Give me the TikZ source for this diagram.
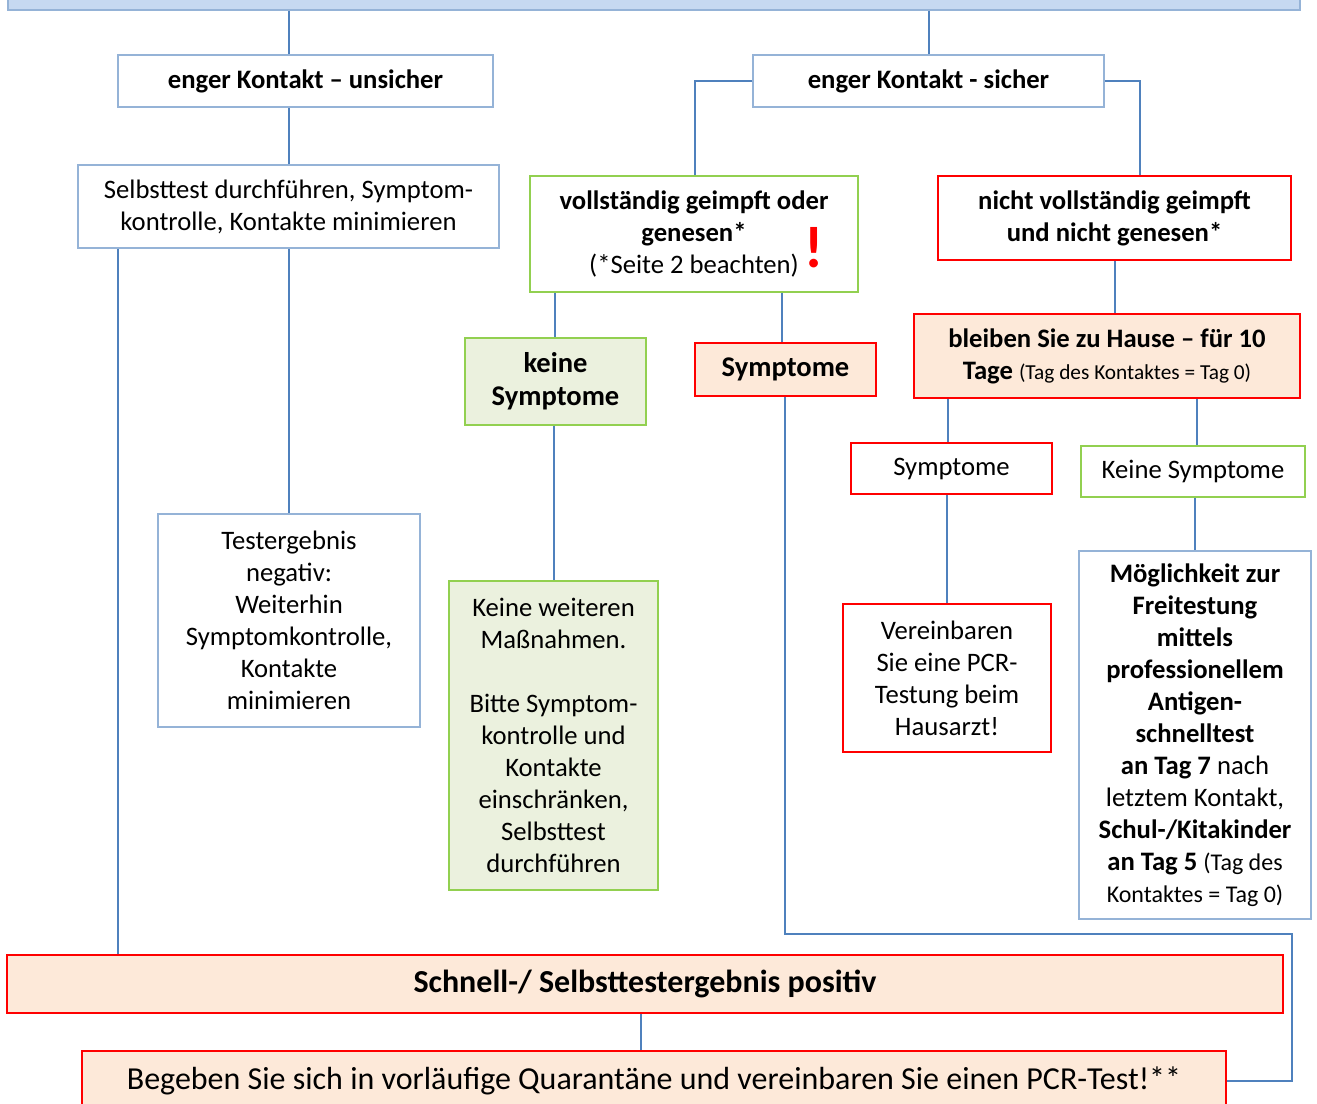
\documentclass[tikz,border=0pt]{standalone}
\usepackage{fontspec}
\setmainfont{Carlito}
\definecolor{lblue}{RGB}{149,179,215}
\definecolor{topfill}{RGB}{198,217,241}
\definecolor{gborder}{RGB}{146,208,80}
\definecolor{gfill}{RGB}{235,241,222}
\definecolor{rborder}{RGB}{255,0,0}
\definecolor{pfill}{RGB}{253,233,217}
\definecolor{cblue}{RGB}{79,129,189}
\newcommand{\fsN}{\fontsize{20}{24}\selectfont}
\newcommand{\fsS}{\fontsize{16}{24}\selectfont}
\newcommand{\fsT}{\fontsize{18}{24}\selectfont}
\newcommand{\fsL}{\fontsize{24}{28}\selectfont}
\newcommand{\fsM}{\fontsize{21.4}{24.75}\selectfont}
\begin{document}
\begin{tikzpicture}[x=0.75pt,y=-0.75pt,
  box/.style={draw, line width=1.3pt, inner sep=0pt, align=center, font=\fsN},
  bluebox/.style={box, draw=lblue, fill=white},
  greenbox/.style={box, draw=gborder, fill=white},
  greenfill/.style={box, draw=gborder, fill=gfill},
  redbox/.style={box, draw=rborder, fill=white},
  peachbox/.style={box, draw=rborder, fill=pfill},
  conn/.style={draw=cblue, line width=1.1pt}]
\clip (0,0) rectangle (1317,1103);
\fill[white] (0,0) rectangle (1317,1103);

\node[box, draw=lblue, fill=topfill, minimum width=969pt, minimum height=37.5pt] (top) at (654,-15) {};

\node[bluebox, minimum width=281.25pt, minimum height=39pt, font=\fsN\bfseries] (b2) at (305.5,81) {enger Kontakt – unsicher};
\node[bluebox, minimum width=263.25pt, minimum height=39pt, font=\fsN\bfseries] (b3) at (928.5,81) {enger Kontakt - sicher};
\node[bluebox, minimum width=315.75pt, minimum height=62.25pt] (b4) at (288.5,206.5) {Selbsttest durchführen, Symptom-\\kontrolle, Kontakte minimieren};
\node[greenbox, minimum width=246pt, minimum height=87pt] (b5) at (694,234) {\textbf{vollständig geimpft oder}\\\textbf{genesen*}\\(*Seite 2 beachten)};
\node[text=rborder, font=\fontsize{44}{44}\selectfont\bfseries, inner sep=0pt] (excl) at (814,248) {!};
\node[redbox, minimum width=264.75pt, minimum height=63pt, font=\fsN\bfseries] (b6) at (1114.5,218) {nicht vollständig geimpft\\und nicht genesen*};
\node[greenfill, minimum width=135.75pt, minimum height=65.25pt, font=\fsM\bfseries] (b7) at (555.5,381.5) {keine\\Symptome};
\node[peachbox, minimum width=135.75pt, minimum height=39.75pt, font=\fsM\bfseries] (b8) at (785.5,369.5) {Symptome};
\node[peachbox, minimum width=289.5pt, minimum height=63pt] (b9) at (1107,356) {\textbf{bleiben Sie zu Hause – für 10}\\\textbf{Tage} {\fsS(Tag des Kontaktes = Tag 0)}};
\node[redbox, minimum width=150.75pt, minimum height=38.25pt] (b10) at (951.5,468.5) {Symptome};
\node[greenbox, minimum width=168pt, minimum height=38.25pt] (b11) at (1193,471.5) {Keine Symptome};
\node[bluebox, minimum width=196.5pt, minimum height=159.75pt] (b12) at (289,620.5) {Testergebnis\\negativ:\\Weiterhin\\Symptomkontrolle,\\Kontakte\\minimieren};
\node[greenfill, minimum width=156.75pt, minimum height=231.75pt] (b13) at (553.5,735.5) {Keine weiteren\\Maßnahmen.\\[24pt]Bitte Symptom-\\kontrolle und\\Kontakte\\einschränken,\\Selbsttest\\durchführen};
\node[redbox, minimum width=156pt, minimum height=111pt] (b14) at (947,678) {Vereinbaren\\Sie eine PCR-\\Testung beim\\Hausarzt!};
\node[bluebox, minimum width=174pt, minimum height=276pt] (b15) at (1195,735) {\textbf{Möglichkeit zur}\\\textbf{Freitestung}\\\textbf{mittels}\\\textbf{professionellem}\\\textbf{Antigen-}\\\textbf{schnelltest}\\\textbf{an Tag 7} nach\\letztem Kontakt,\\\textbf{Schul-/Kitakinder}\\\textbf{an Tag 5} {\fsT(Tag des}\\{\fsT Kontaktes = Tag 0)}};
\node[peachbox, minimum width=957pt, minimum height=43.5pt, font=\fsL\bfseries] (b16) at (645,984) {Schnell-/ Selbsttestergebnis positiv};
\node[peachbox, minimum width=858pt, minimum height=45pt, font=\fsL] (b17) at (654,1081) {Begeben Sie sich in vorläufige Quarantäne und vereinbaren Sie einen PCR-Test!**};

\draw[conn] (top.south -| 289,0) -- (b2.north -| 289,0);
\draw[conn] (top.south -| 929,0) -- (b3.north -| 929,0);
\draw[conn] (b2.south -| 289,0) -- (b4.north -| 289,0);
\draw[conn] (b3.west) -| (b5.north -| 695,0);
\draw[conn] (b3.east) -| (b6.north -| 1140,0);
\draw[conn] (b4.south -| 289,0) -- (b12.north -| 289,0);
\draw[conn] (b4.south -| 118,0) -- (b16.north -| 118,0);
\draw[conn] (b5.south -| 555,0) -- (b7.north -| 555,0);
\draw[conn] (b5.south -| 782,0) -- (b8.north -| 782,0);
\draw[conn] (b6.south -| 1115,0) -- (b9.north -| 1115,0);
\draw[conn] (b9.south -| 948,0) -- (b10.north -| 948,0);
\draw[conn] (b9.south -| 1197,0) -- (b11.north -| 1197,0);
\draw[conn] (b7.south -| 554,0) -- (b13.north -| 554,0);
\draw[conn] (b10.south -| 947,0) -- (b14.north -| 947,0);
\draw[conn] (b11.south -| 1195,0) -- (b15.north -| 1195,0);
\draw[conn] (b16.south -| 641,0) -- (b17.north -| 641,0);
\coordinate (k1) at (785,934);
\coordinate (k2) at (1292,934);
\draw[conn] (b8.south -| k1) -- (k1) -- (k2) |- (b17.east);
\end{tikzpicture}
\end{document}
